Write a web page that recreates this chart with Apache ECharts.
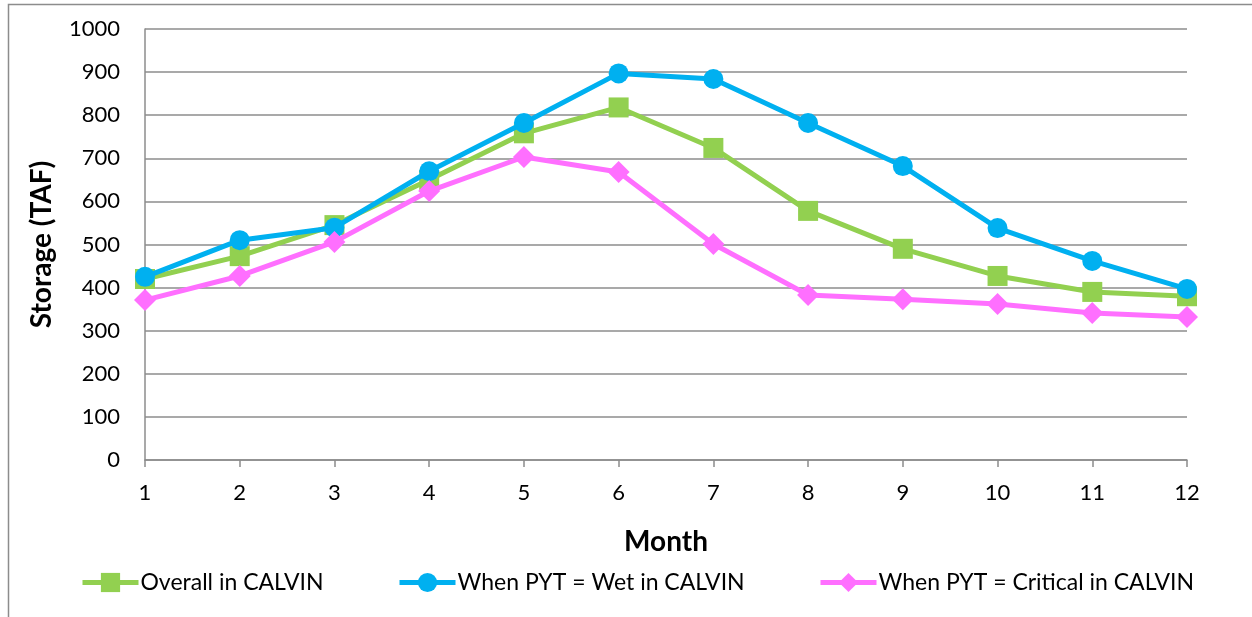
<!DOCTYPE html>
<html><head><meta charset="utf-8">
<script src="https://cdn.jsdelivr.net/npm/echarts@6/dist/echarts.min.js"></script>
<style>html,body{margin:0;padding:0;background:#fff}#c{width:1252px;height:617px}</style>
</head><body><div id="c"></div>
<script>
const months = [1,2,3,4,5,6,7,8,9,10,11,12];
const overall = [420,473,545,650,758,818,724,578,490,427,390,380];
const wet = [425,510,539,670,782,897,884,782,682,538,462,397];
const critical = [371,427,506,624,703,668,501,383,373,362,341,332];
const seriesNames = ['Overall in CALVIN','When PYT = Wet in CALVIN','When PYT = Critical in CALVIN'];
const yTicks = [0,100,200,300,400,500,600,700,800,900,1000];

const font = 'Lato, "Liberation Sans", sans-serif';
const chart = echarts.init(document.getElementById('c'));
const pair = arr => months.map((m,i)=>[m,arr[i]]);
const legendBase = {top:571,padding:0,itemWidth:56,itemHeight:24,
  textStyle:{fontFamily:font,fontSize:23,color:'#000',padding:[0,0,0,-3]},
  lineStyle:{width:5}};
chart.setOption({
  animation:false,
  backgroundColor:'#fff',
  graphic:[{type:'rect',shape:{x:8.5,y:4.5,width:1400,height:800},style:{fill:'none',stroke:'#8c8c8c',lineWidth:1.5},silent:true}],
  grid:{left:145,right:65,top:29,bottom:157},
  legend:[
    Object.assign({},legendBase,{left:80,data:[seriesNames[0]]}),
    Object.assign({},legendBase,{left:397,data:[seriesNames[1]]}),
    Object.assign({},legendBase,{left:818,data:[seriesNames[2]]})
  ],
  xAxis:{type:'value',min:1,max:12,interval:1,
    name:'Month',nameLocation:'middle',nameGap:68,
    nameTextStyle:{fontFamily:font,fontSize:28,fontWeight:'bold',color:'#000'},
    axisLine:{lineStyle:{color:'#8c8c8c',width:1.5}},
    axisTick:{show:true,length:7,lineStyle:{color:'#8c8c8c',width:1.5}},
    axisLabel:{fontFamily:font,fontSize:22,color:'#000',margin:22},
    splitLine:{show:false}},
  yAxis:{type:'value',min:0,max:1000,interval:100,
    name:'Storage (TAF)',nameLocation:'middle',nameGap:89,nameRotate:90,
    nameTextStyle:{fontFamily:font,fontSize:28,fontWeight:'bold',color:'#000'},
    axisLine:{show:true,lineStyle:{color:'#8c8c8c',width:1.5}},
    axisTick:{show:false},
    axisLabel:{fontFamily:font,fontSize:22,color:'#000',margin:25,
      formatter:v=>yTicks.includes(v)?String(v):''},
    splitLine:{show:true,lineStyle:{color:'#8c8c8c',width:1.5}}},
  series:[
    {name:seriesNames[0],type:'line',data:pair(overall),symbol:'rect',symbolSize:20,
      itemStyle:{color:'#92D050'},lineStyle:{color:'#92D050',width:5},z:2},
    {name:seriesNames[1],type:'line',data:pair(wet),symbol:'circle',symbolSize:20,
      itemStyle:{color:'#00B0F0'},lineStyle:{color:'#00B0F0',width:5},z:3},
    {name:seriesNames[2],type:'line',data:pair(critical),symbol:'diamond',symbolSize:22,
      itemStyle:{color:'#FF6FFF'},lineStyle:{color:'#FF6FFF',width:5},z:4}
  ]
});
</script></body></html>
